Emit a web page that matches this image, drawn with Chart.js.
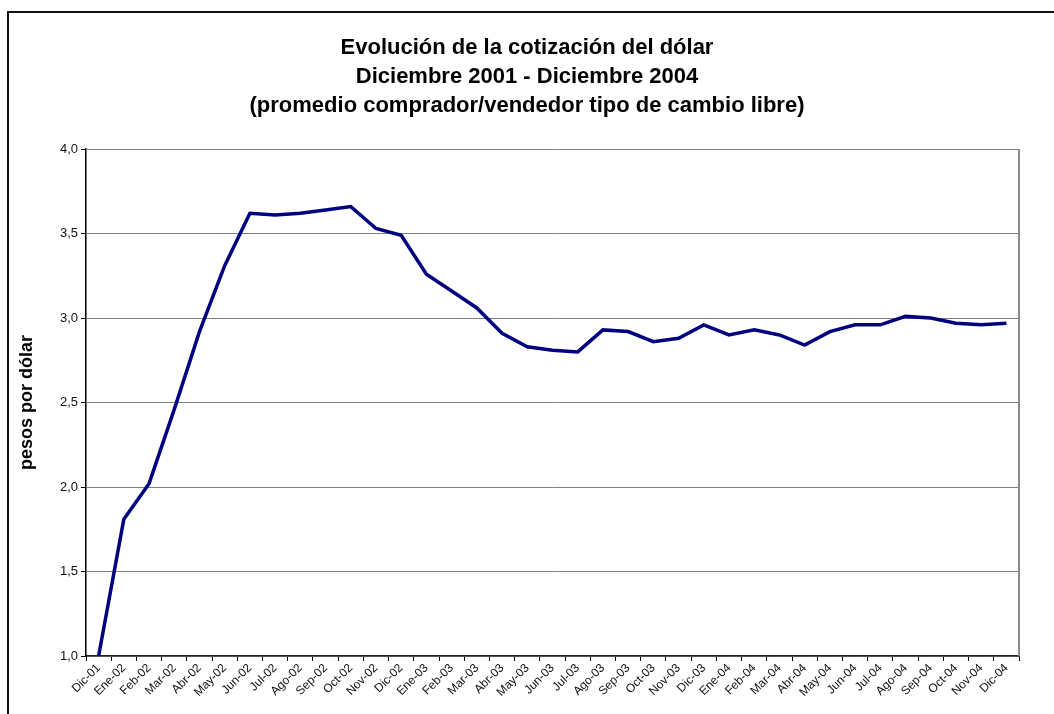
<!DOCTYPE html>
<html>
<head>
<meta charset="utf-8">
<script src="https://cdn.jsdelivr.net/npm/chart.js@4.4.0/dist/chart.umd.min.js"></script>
<style>
  html, body { margin: 0; padding: 0; background: #fff; overflow: hidden; }
  #frame { position: absolute; left: 7px; top: 11px; width: 1100px; height: 800px; border: 2px solid #111; }
  #wrap { position: absolute; left: 0; top: 0; width: 1054px; height: 714px; }
</style>
</head>
<body>
<div id="frame"></div>
<div id="wrap"><canvas id="dolarChart" width="1054" height="714"></canvas></div>
<script>
// Cotizacion del dolar, promedio comprador/vendedor
const meses = [
    'Dic-01',
    'Ene-02', 'Feb-02', 'Mar-02', 'Abr-02', 'May-02', 'Jun-02', 'Jul-02', 'Ago-02', 'Sep-02', 'Oct-02', 'Nov-02', 'Dic-02',
    'Ene-03', 'Feb-03', 'Mar-03', 'Abr-03', 'May-03', 'Jun-03', 'Jul-03', 'Ago-03', 'Sep-03', 'Oct-03', 'Nov-03', 'Dic-03',
    'Ene-04', 'Feb-04', 'Mar-04', 'Abr-04', 'May-04', 'Jun-04', 'Jul-04', 'Ago-04', 'Sep-04', 'Oct-04', 'Nov-04', 'Dic-04'
];
const cotizacion = [
    1.00,
    1.81, 2.02, 2.46, 2.92, 3.31, 3.62, 3.61, 3.62, 3.64, 3.66, 3.53, 3.49,
    3.26, 3.16, 3.06, 2.91, 2.83, 2.81, 2.80, 2.93, 2.92, 2.86, 2.88, 2.96,
    2.90, 2.93, 2.90, 2.84, 2.92, 2.96, 2.96, 3.01, 3.00, 2.97, 2.96, 2.97
];
const tituloLineas = [
    'Evolución de la cotización del dólar',
    'Diciembre 2001 - Diciembre 2004',
    '(promedio comprador/vendedor tipo de cambio libre)'
];
const ejeY = { min: 1.0, max: 4.0, paso: 0.5, titulo: 'pesos por dólar' };

const fuente = 'Liberation Sans, Arial, sans-serif';

// borde gris del area de trazado (lado derecho)
const plotBorder = {
    id: 'plotBorder',
    afterDraw(chart) {
        const { ctx, chartArea: a } = chart;
        ctx.save();
        ctx.strokeStyle = '#8c8c8c';
        ctx.lineWidth = 2;
        ctx.beginPath();
        ctx.moveTo(a.right, a.top);
        ctx.lineTo(a.right, a.bottom);
        ctx.stroke();
        ctx.restore();
    }
};

const ctx = document.getElementById('dolarChart').getContext('2d');
new Chart(ctx, {
    type: 'line',
    data: {
        labels: meses,
        datasets: [{
            data: cotizacion,
            borderColor: '#000080',
            borderWidth: 3.5,
            pointRadius: 0,
            tension: 0,
            fill: false
        }]
    },
    options: {
        responsive: false,
        animation: false,
        layout: { padding: { top: 33, right: 35, left: 35, bottom: 0 } },
        plugins: {
            legend: { display: false },
            tooltip: { enabled: false },
            title: {
                display: true,
                text: tituloLineas,
                color: '#000',
                font: { family: fuente, size: 22, weight: 'bold', lineHeight: 1.32 },
                padding: { top: 0, bottom: 29 }
            }
        },
        scales: {
            x: {
                offset: true,
                grid: { display: true, offset: true, drawOnChartArea: false, drawTicks: true, tickLength: 5, color: '#000' },
                border: { color: '#222', width: 1.5 },
                ticks: {
                    autoSkip: false,
                    maxRotation: 45,
                    minRotation: 45,
                    padding: 0,
                    color: '#111',
                    font: { family: fuente, size: 12 }
                },
                afterFit(scale) { scale.height = 58; }
            },
            y: {
                min: ejeY.min,
                max: ejeY.max,
                grid: { color: '#808080', lineWidth: 1, tickLength: 5, tickColor: '#000' },
                border: { color: '#000', width: 1.5 },
                ticks: {
                    stepSize: ejeY.paso,
                    padding: 3,
                    color: '#111',
                    font: { family: fuente, size: 13 },
                    callback: v => v.toFixed(1).replace('.', ',')
                },
                title: {
                    display: true,
                    text: ejeY.titulo,
                    color: '#000',
                    font: { family: fuente, size: 18, weight: 'bold' },
                    padding: { top: -19, bottom: 0 }
                },
                afterFit(scale) { scale.width = 51; }
            }
        }
    },
    plugins: [plotBorder]
});
</script>
</body>
</html>
